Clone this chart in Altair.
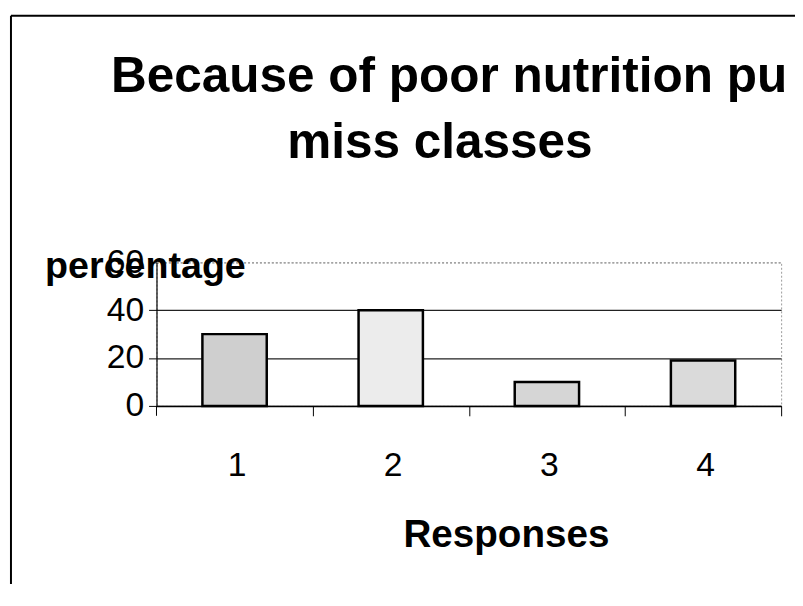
import altair as alt
import pandas as pd

# ---- data ----
RESPONSES = ["1", "2", "3", "4"]
PERCENT = [30, 40, 10, 19]
BAR_FILLS = ["#cfcfcf", "#ececec", "#d6d6d6", "#dadada"]
Y_TICKS = [0, 20, 40, 60]
TITLE_LINE_1 = "Because of poor nutrition pu"
TITLE_LINE_2 = "miss classes"
X_TITLE = "Responses"
Y_TITLE = "percentage"

df = pd.DataFrame({"response": RESPONSES, "percent": PERCENT, "fill": BAR_FILLS})

FONT = "Liberation Sans"

base = alt.Chart(df)

bars = base.mark_bar(stroke="black", strokeWidth=2.5).encode(
    x=alt.X(
        "response:N",
        sort=RESPONSES,
        scale=alt.Scale(paddingInner=0.588, paddingOuter=0.294),
        axis=alt.Axis(
            title=X_TITLE,
            labelAngle=0,
            labelFont=FONT,
            labelFontSize=34,
            labelColor="black",
            labelPadding=33,
            labelOffset=-77,
            tickSize=10,
            tickColor="black",
            tickWidth=1,
            tickOffset=79,
            domainColor="black",
            domainWidth=1.5,
            titleFont=FONT,
            titleFontSize=39,
            titleFontWeight="bold",
            titleColor="black",
            titleX=353,
            titleY=142,
            titleAlign="center",
            titleBaseline="alphabetic",
        ),
    ),
    y=alt.Y(
        "percent:Q",
        scale=alt.Scale(domain=[0, 60], nice=False),
        axis=alt.Axis(
            title=Y_TITLE,
            values=Y_TICKS,
            labelFont=FONT,
            labelFontSize=34,
            labelColor="black",
            labelPadding=5,
            tickSize=8,
            tickColor="black",
            domainColor="black",
            domainWidth=1.2,
            grid=True,
            gridColor={"condition": {"test": "datum.value == 60", "value": "#9a9a9a"}, "value": "#222222"},
            gridDash={"condition": {"test": "datum.value == 60", "value": [2, 2]}, "value": []},
            gridWidth=1.4,
            titleAngle=0,
            titleFont=FONT,
            titleFontSize=38,
            titleFontWeight="bold",
            titleColor="black",
            titleX=-113,
            titleY=15,
            titleAlign="left",
            titleBaseline="alphabetic",
        ),
    ),
    color=alt.Color("fill:N", scale=None),
)

one = alt.Data(values=[{"k": 0}])

title1 = alt.Chart(one).mark_text(
    text=TITLE_LINE_1, font=FONT, fontSize=50, fontWeight="bold",
    align="left", baseline="alphabetic", color="black",
).encode(x=alt.value(-46), y=alt.value(-172))

title2 = alt.Chart(one).mark_text(
    text=TITLE_LINE_2, font=FONT, fontSize=50, fontWeight="bold",
    align="left", baseline="alphabetic", color="black",
).encode(x=alt.value(132), y=alt.value(-105))

first_tick = alt.Chart(one).mark_rule(color="black", strokeWidth=1).encode(
    x=alt.value(0), y=alt.value(145), y2=alt.value(155)
)

left_border = alt.Chart(one).mark_rule(color="black", strokeWidth=2).encode(
    x=alt.value(-147), y=alt.value(-249), y2=alt.value(325)
)
top_border = alt.Chart(one).mark_rule(color="black", strokeWidth=2).encode(
    x=alt.value(-147), x2=alt.value(645), y=alt.value(-249)
)

chart = (
    alt.layer(bars, title1, title2, first_tick, left_border, top_border)
    .properties(
        width=631,
        height=145,
        autosize=alt.AutoSizeParams(type="none"),
        padding={"left": 150, "top": 254, "right": 14, "bottom": 180},
        background="white",
    )
    .configure_view(stroke="#9a9a9a", strokeDash=[2, 2], strokeWidth=1)
)

chart.save("out.html", embed_options={"renderer": "svg", "actions": False})
